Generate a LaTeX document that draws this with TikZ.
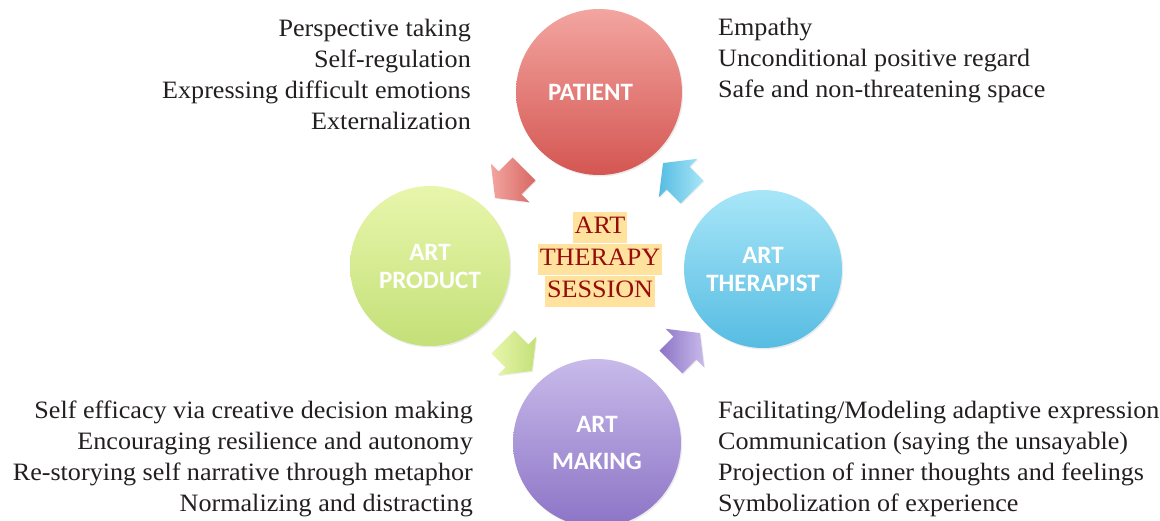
\documentclass[tikz,border=0pt]{standalone}
\usepackage{fontspec}
\setmainfont{Liberation Serif}[FakeStretch=1.045]
\newfontfamily\labelfont{Carlito}
\usetikzlibrary{shapes.arrows,shadows}

\definecolor{patTop}{RGB}{243,165,160}
\definecolor{patBot}{RGB}{212,86,82}
\definecolor{proTop}{RGB}{232,246,172}
\definecolor{proBot}{RGB}{196,224,120}
\definecolor{thrTop}{RGB}{168,230,248}
\definecolor{thrBot}{RGB}{86,188,226}
\definecolor{mkTop}{RGB}{200,186,234}
\definecolor{mkBot}{RGB}{140,116,198}
\definecolor{sessText}{RGB}{150,12,12}
\definecolor{sessBack}{RGB}{255,226,158}
\definecolor{bodyText}{RGB}{35,31,32}

\tikzset{
  role/.style={circle, minimum size=162pt, inner sep=0pt, text=white,
    font=\labelfont\bfseries\fontsize{25}{28}\selectfont, align=center,
    drop shadow={opacity=0.16, shadow xshift=1.2pt, shadow yshift=-1.5pt}},
  flow/.style={single arrow, minimum height=41pt, minimum width=54pt,
    single arrow head extend=11pt, single arrow tip angle=104,
    inner xsep=0pt, inner ysep=16pt,
    drop shadow={opacity=0.14, shadow xshift=1pt, shadow yshift=-1pt}},
  notes/.style={font=\fontsize{25}{31}\selectfont, text=bodyText, inner sep=0pt},
  sess/.style={fill=sessBack, text=sessText, inner xsep=2pt, inner ysep=1pt,
    font=\fontsize{25}{30}\selectfont, text height=20pt, text depth=9pt}
}

\begin{document}
\begin{tikzpicture}[x=1pt,y=-1pt]
\useasboundingbox (0,0) rectangle (1160,521);

% four roles of the session
\node[role, minimum size=166pt, top color=patTop, bottom color=patBot] (patient) at (599,92) {PATIENT\hspace*{17pt}};
\node[role, minimum size=160pt, top color=proTop, bottom color=proBot] (product) at (430,266) {ART\\PRODUCT};
\node[role, minimum size=158pt, top color=thrTop, bottom color=thrBot] (therapist) at (763,269) {ART\\THERAPIST};
\node[role, minimum size=168pt, top color=mkTop, bottom color=mkBot,
  font=\labelfont\bfseries\fontsize{25}{37}\selectfont] (making) at (597,443) {ART\\MAKING};

% cycle arrows between the roles
\node[flow, rotate=225, left color=patTop, right color=patBot!90] (a1) at (514,179) {};
\node[flow, rotate=315, left color=proTop, right color=proBot] (a2) at (513,352) {};
\node[flow, rotate=45, left color=mkBot, right color=mkTop] (a3) at (681,352) {};
\node[flow, rotate=135, left color=thrBot, right color=thrTop] (a4) at (682,182) {};

% session title
\node[sess] (sess1) at (600,228) {ART};
\node[sess] (sess2) at (600,260) {THERAPY};
\node[sess] (sess3) at (600,292) {SESSION};

% contributions of each role
\node[notes, anchor=east, align=right] (patNotes) at (471,74)
  {Perspective taking\\Self-regulation\\Expressing difficult emotions\\Externalization};
\node[notes, anchor=west, align=left] (thrNotes) at (718,61)
  {Empathy\\Unconditional positive regard\\Safe and non-threatening space};
\node[notes, anchor=east, align=right] (proNotes) at (473,459)
  {Self efficacy via creative decision making\\Encouraging resilience and autonomy\\Re-storying self narrative through metaphor\\Normalizing and distracting};
\node[notes, anchor=west, align=left] (mkNotes) at (718,459)
  {Facilitating/Modeling adaptive expression\\Communication (saying the unsayable)\\Projection of inner thoughts and feelings\\Symbolization of experience};
\end{tikzpicture}
\end{document}
